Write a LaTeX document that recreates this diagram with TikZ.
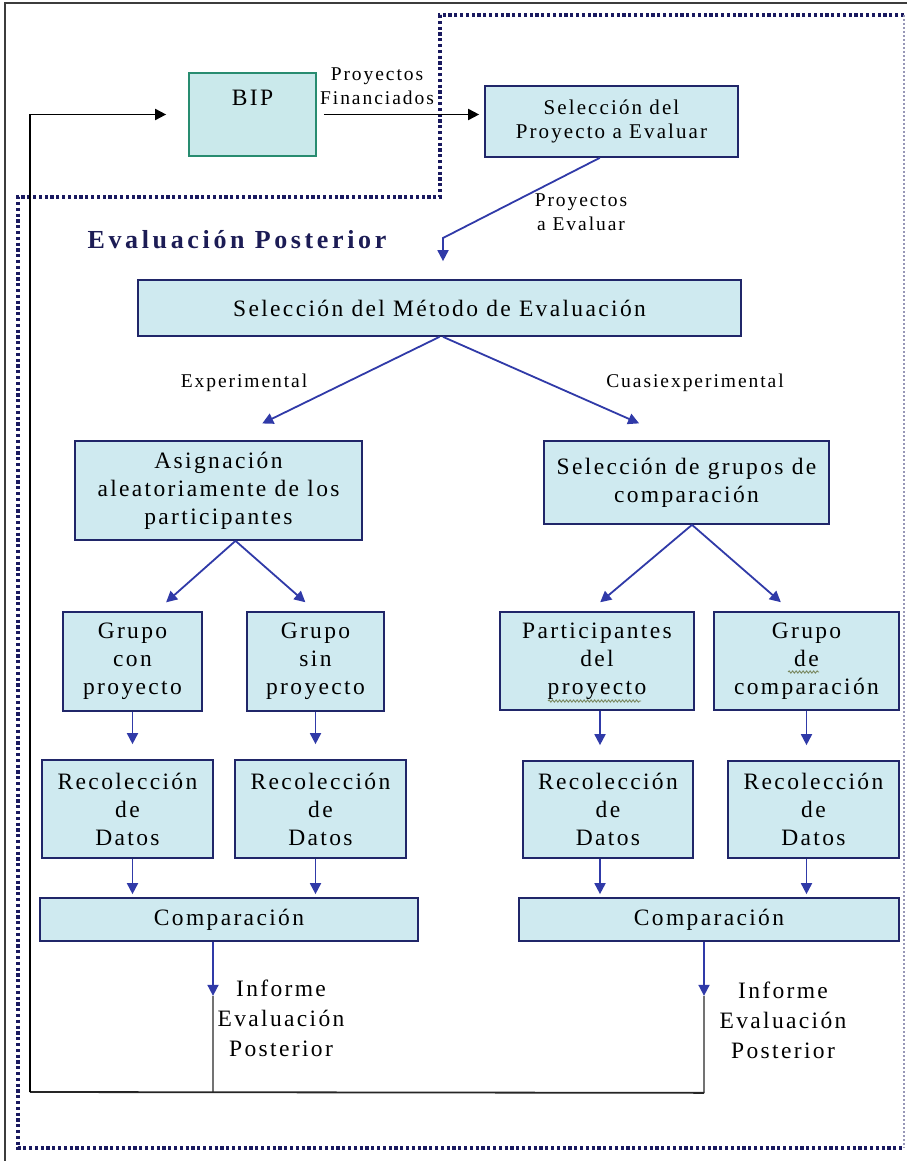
\documentclass[tikz,border=0pt]{standalone}
\usepackage{fontspec}
\setmainfont[LetterSpace=10]{Liberation Serif}
\newfontfamily\headfont[LetterSpace=14]{Liberation Serif}
\usetikzlibrary{arrows.meta,decorations.pathmorphing,calc}

\definecolor{boxfill}{RGB}{207,234,240}
\definecolor{bipfill}{RGB}{202,233,235}
\definecolor{boxline}{RGB}{32,38,105}
\definecolor{bipline}{RGB}{40,140,112}
\definecolor{flowblue}{RGB}{48,58,168}
\definecolor{dotnavy}{RGB}{25,25,95}
\definecolor{headnavy}{RGB}{28,28,85}
\definecolor{frameline}{RGB}{60,60,60}
\definecolor{tailgrey}{RGB}{115,115,115}
\definecolor{squiggle}{RGB}{120,135,95}

\begin{document}
\begin{tikzpicture}[x=1pt,y=-1pt,
  box/.style={draw=boxline, line width=1.7pt, fill=boxfill, align=center,
    inner sep=0pt, font=\fontsize{23.5}{28}\selectfont},
  lbl/.style={align=center, inner sep=0pt, font=\fontsize{19.5}{24}\selectfont},
  infolbl/.style={align=center, inner sep=0pt, font=\fontsize{23.5}{30}\selectfont},
  tip/.style={-{Triangle[length=11pt,width=11pt]}},
  flow/.style={draw=flowblue, line width=1.8pt, tip},
  blackflow/.style={draw=black, line width=1.8pt, tip},
  tail/.style={draw=tailgrey, line width=1.2pt},
  loopline/.style={draw=black!85, line width=1.8pt},
  dotline/.style={draw=dotnavy, line width=3.6pt, dash pattern=on 3.2pt off 2.6pt},
  thindot/.style={draw=dotnavy!45, line width=1.4pt, dash pattern=on 2pt off 2pt},
  wavy/.style={draw=squiggle, line width=0.9pt, decorate,
    decoration={snake, amplitude=1.1pt, segment length=3.5pt}}]

\useasboundingbox (0,0) rectangle (907,1161);
\fill[white] (0,0) rectangle (907,1161);

% outer frame (left and top edges)
\draw[draw=frameline, line width=2.2pt] (5,1161) -- (5,3) -- (907,3);

% dotted outline of the evaluation area
\draw[dotline] (904,15) -- (440,15) -- (440,197) -- (18,197) -- (18,1148) -- (904,1148);
\draw[thindot] (904,15) -- (904,1148);

% title
\node[font=\headfont\bfseries\fontsize{26}{30}\selectfont, text=headnavy, inner sep=0pt]
  (title) at (237,240) {Evaluación Posterior};

% boxes
\node[box, draw=bipline, fill=bipfill, minimum width=127pt, minimum height=83pt,
  text height=16pt, text depth=33pt] (bip) at (252.5,114.5) {BIP};
\node[box, font=\fontsize{21}{24}\selectfont, minimum width=253pt, minimum height=71pt]
  (selp) at (611.5,121.5) {Selección del\\Proyecto a Evaluar};
\node[box, minimum width=603pt, minimum height=56pt] (met) at (439.5,308)
  {Selección del Método de Evaluación};
\node[box, minimum width=287pt, minimum height=99pt] (asig) at (218.5,490.5)
  {Asignación\\aleatoriamente de los\\participantes};
\node[box, minimum width=285pt, minimum height=83pt] (selg) at (686.5,482.5)
  {Selección de grupos de\\comparación};
\node[box, minimum width=139pt, minimum height=99pt] (gcon) at (132.5,661.5)
  {Grupo\\con\\proyecto};
\node[box, minimum width=137pt, minimum height=99pt] (gsin) at (315.5,661.5)
  {Grupo\\sin\\proyecto};
\node[box, minimum width=194pt, minimum height=98pt] (part) at (597,661)
  {Participantes\\del\\proyecto};
\node[box, minimum width=185pt, minimum height=98pt] (gcmp) at (806.5,661)
  {Grupo\\de\\comparación};
\node[box, minimum width=171pt, minimum height=98pt] (rec1) at (127.5,809)
  {Recolección\\de\\Datos};
\node[box, minimum width=171pt, minimum height=98pt] (rec2) at (320.5,809)
  {Recolección\\de\\Datos};
\node[box, minimum width=170pt, minimum height=97pt] (rec3) at (608,809.5)
  {Recolección\\de\\Datos};
\node[box, minimum width=171pt, minimum height=97pt] (rec4) at (813.5,809.5)
  {Recolección\\de\\Datos};
\node[box, minimum width=378pt, minimum height=43pt] (cmp1) at (229,919.5) {Comparación};
\node[box, minimum width=380pt, minimum height=43pt] (cmp2) at (709,919.5) {Comparación};

% spelling marks under two words
\draw[wavy] (548,701) -- (641,701);
\draw[wavy] (788,672) -- (819,672);

% labels
\node[lbl] (lpf) at (377,86) {Proyectos\\Financiados};
\node[lbl] (lpe) at (581,212) {Proyectos\\a Evaluar};
\node[lbl] (lexp) at (244,383) {Experimental};
\node[lbl] (lcua) at (695,383) {Cuasiexperimental};
\node[infolbl] (inf1) at (281,1018) {Informe\\Evaluación\\Posterior};
\node[infolbl] (inf2) at (783,1020) {Informe\\Evaluación\\Posterior};

% BIP to project selection
\draw[blackflow, shorten <=7pt, shorten >=5pt] (bip.east) -- (selp.west |- bip.east);

% project selection to method selection
\coordinate (pe) at (443,238);
\draw[flow, shorten >=18pt] ($(selp.south west)!0.454!(selp.south east)$) -- (pe) -- (pe |- met.north);

% method selection branches
\draw[flow, shorten >=38pt] (met.south) -- ($(asig.north west)+(154,0)$);
\draw[flow, shorten >=41.6pt] ($(met.south)+(3.5,0)$) -- ($(selg.north west)+(134,0)$);

% experimental branch
\draw[flow, shorten >=13.3pt] ($(asig.south)+(17,0)$) -- ($(gcon.north west)+(94,0)$);
\draw[flow, shorten >=13.5pt] ($(asig.south)+(17,0)$) -- (gsin.north);

% quasi-experimental branch
\draw[flow, shorten >=13.8pt] ($(selg.south)+(5.5,0)$) -- ($(part.north west)+(90.5,0)$);
\draw[flow, shorten >=13.7pt] ($(selg.south)+(5.5,0)$) -- ($(gcmp.north west)+(78,0)$);

% groups to data collection
\coordinate (ps) at ($(part.south)+(3,0)$);
\draw[flow, shorten >=15pt] (gcon.south) -- (gcon.south |- rec1.north);
\draw[flow, shorten >=15pt] (gsin.south) -- (gsin.south |- rec2.north);
\draw[flow, shorten >=15pt] (ps) -- (ps |- rec3.north);
\draw[flow, shorten >=15pt] (gcmp.south) -- (gcmp.south |- rec4.north);

% data collection to comparison
\draw[flow, shorten >=3pt] (gcon.south |- rec1.south) -- (gcon.south |- cmp1.north);
\draw[flow, shorten >=3pt] (gsin.south |- rec2.south) -- (gsin.south |- cmp1.north);
\draw[flow, shorten >=3pt] (ps |- rec3.south) -- (ps |- cmp2.north);
\draw[flow, shorten >=3pt] (gcmp.south |- rec4.south) -- (gcmp.south |- cmp2.north);

% comparison to report, and the loop back to BIP
\coordinate (c1) at ($(cmp1.south)+(-16,0)$);
\coordinate (c2) at ($(cmp2.south)+(-5,0)$);
\coordinate (r1) at ($(cmp1.south)+(-16,54)$);
\coordinate (r2) at ($(cmp2.south)+(-5,54)$);
\coordinate (b1) at ($(cmp1.south)+(-16,151)$);
\coordinate (b2) at ($(cmp2.south)+(-5,151)$);
\coordinate (corner) at (30,1092);
\draw[flow] (c1) -- (r1);
\draw[flow] (c2) -- (r2);
\draw[tail] (r1) -- (b1);
\draw[tail] (r2) -- (b2);
\draw[loopline] (b2) -- (corner);
\draw[blackflow, shorten >=22pt] (corner) -- (corner |- bip.west) -- (bip.west);

\end{tikzpicture}
\end{document}
